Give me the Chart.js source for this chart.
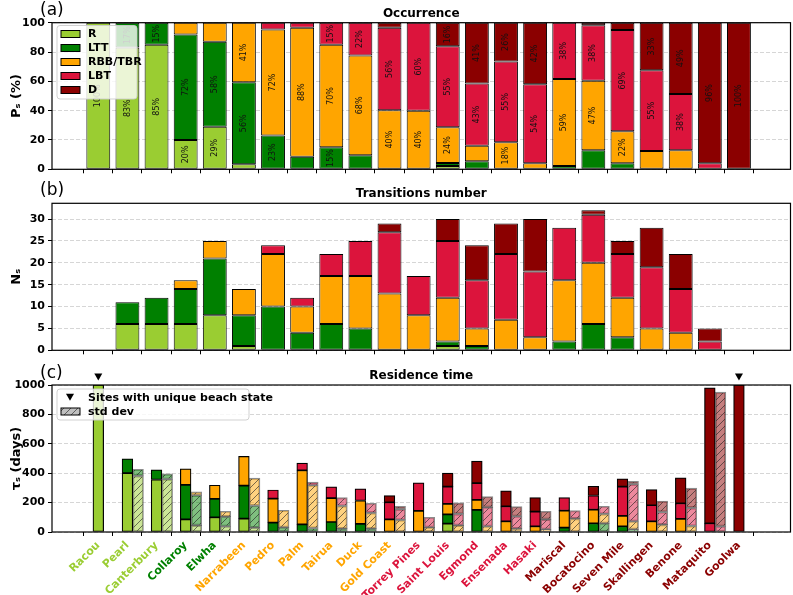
<!DOCTYPE html>
<html>
<head>
<meta charset="utf-8">
<script src="https://cdn.jsdelivr.net/npm/chart.js@4.4.1/dist/chart.umd.min.js"></script>
<style>
  html, body { margin: 0; padding: 0; background: #fff; }
  #wrap { position: relative; width: 793px; height: 595px; overflow: hidden; }
  canvas { position: absolute; left: 0; }
</style>
</head>
<body>
<div id="wrap">
  <canvas id="occ" width="793" height="180" style="top:0px"></canvas>
  <canvas id="trans" width="793" height="180" style="top:180px"></canvas>
  <canvas id="res" width="793" height="235" style="top:360px"></canvas>
</div>
<script>
// sites and the beach-state class each one is labelled with
const sites = ['Racou', 'Pearl', 'Canterbury', 'Collaroy', 'Elwha', 'Narrabeen', 'Pedro', 'Palm', 'Tairua', 'Duck',
  'Gold Coast', 'Torrey Pines', 'Saint Louis', 'Egmond', 'Ensenada', 'Hasaki', 'Mariscal', 'Bocatocino',
  'Seven Mile', 'Skallingen', 'Benone', 'Mataquito', 'Goolwa'];
const siteClass = [0, 0, 0, 1, 1, 2, 2, 2, 2, 2, 2, 3, 3, 3, 3, 3, 4, 4, 4, 4, 4, 4, 4];
const classes = ['R', 'LTT', 'RBB/TBR', 'LBT', 'D'];
const classRGB = ['154,205,50', '0,128,0', '255,165,0', '220,20,60', '139,0,0'];

// (a) occurrence (%)
const occR   = [100, 83, 85, 20, 29, 3.4, 0, 0, 0, 0, 0, 0, 2.3, 0, 0, 0, 0, 0, 0, 0, 0, 0, 0];
const occLTT = [0, 17, 15, 72, 58, 56, 23, 8.6, 15, 9.5, 0, 0, 2, 5.5, 0, 0, 2.3, 13, 4.1, 0, 0, 0, 0];
const occRBB = [0, 0, 0, 8, 13, 40.6, 72.4, 88, 70, 68.2, 40.2, 40, 24.4, 10.6, 18.4, 4.1, 59.3, 47.4, 21.8, 12.5, 13, 0, 0];
const occLBT = [0, 0, 0, 0, 0, 0, 4.6, 3.4, 15, 22.3, 56.4, 60, 55.3, 42.5, 55.2, 53.9, 38.4, 37.8, 69.1, 55, 38.4, 4.1, 0];
const occD   = [0, 0, 0, 0, 0, 0, 0, 0, 0, 0, 3.4, 0, 16, 41.4, 26.4, 42, 0, 1.8, 5, 32.5, 48.6, 95.9, 100];

// (b) transitions number
const trR   = [0, 6, 6, 6, 8, 1, 0, 0, 0, 0, 0, 0, 1, 0, 0, 0, 0, 0, 0, 0, 0, 0, 0];
const trLTT = [0, 5, 6, 8, 13, 7, 10, 4, 6, 5, 0, 0, 1, 1, 0, 0, 2, 6, 3, 0, 0, 0, 0];
const trRBB = [0, 0, 0, 2, 4, 6, 12, 6, 11, 12, 13, 8, 10, 4, 7, 3, 14, 14, 9, 5, 4, 0, 0];
const trLBT = [0, 0, 0, 0, 0, 0, 2, 2, 5, 8, 14, 9, 13, 11, 15, 15, 12, 11, 10, 14, 10, 2, 0];
const trD   = [0, 0, 0, 0, 0, 0, 0, 0, 0, 0, 2, 0, 5, 8, 7, 12, 0, 1, 3, 9, 8, 3, 0];

// (c) residence time (days), mean
const resR   = [1000, 400, 357, 86, 100, 91, 0, 0, 0, 0, 0, 0, 57, 0, 0, 0, 0, 0, 0, 0, 0, 0, 0];
const resLTT = [0, 98, 66, 234, 125, 225, 64, 52, 68, 55, 0, 0, 63, 150, 0, 0, 30, 59, 39, 0, 0, 0, 0];
const resRBB = [0, 0, 0, 110, 93, 198, 163, 368, 162, 159, 86, 143, 71, 68, 73, 39, 115, 93, 70, 73, 89, 0, 0];
const resLBT = [0, 0, 0, 0, 0, 0, 59, 48, 77, 79, 116, 191, 118, 114, 102, 100, 89, 96, 200, 109, 106, 59, 0];
const resD   = [0, 0, 0, 0, 0, 0, 0, 0, 0, 0, 46, 0, 91, 150, 105, 95, 0, 63, 52, 107, 173, 921, 1000];

// (c) residence time (days), std dev
const stdR   = [0, 382, 359, 45, 39, 30, 0, 0, 0, 0, 0, 0, 0, 0, 0, 0, 0, 0, 0, 0, 0, 0, 0];
const stdLTT = [0, 45, 36, 205, 66, 150, 32, 27, 23, 23, 0, 0, 0, 0, 0, 0, 0, 59, 18, 0, 0, 0, 0];
const stdRBB = [0, 0, 0, 23, 36, 186, 116, 291, 154, 107, 82, 32, 45, 39, 23, 18, 91, 64, 55, 50, 41, 0, 0];
const stdLBT = [0, 0, 0, 0, 0, 0, 0, 21, 57, 65, 73, 68, 78, 129, 84, 68, 54, 52, 252, 86, 123, 39, 0];
const stdD   = [0, 0, 0, 0, 0, 0, 0, 0, 0, 0, 20, 0, 75, 73, 66, 55, 0, 0, 20, 75, 134, 913, 0];

// y tick labels
const occTicks = [0, 20, 40, 60, 80, 100];
const trTicks = [0, 5, 10, 15, 20, 25, 30];
const resTicks = [0, 200, 400, 600, 800, 1000];

Chart.defaults.font.family = '"DejaVu Sans"';
Chart.defaults.color = '#000';

const nz = a => a.map(v => v || null);
const solid = k => 'rgb(' + classRGB[k] + ')';

function hatch(rgb, alpha) {
  const c = document.createElement('canvas');
  c.width = c.height = 7;
  const g = c.getContext('2d');
  g.fillStyle = 'rgba(' + rgb + ',' + alpha + ')';
  g.fillRect(0, 0, 7, 7);
  g.strokeStyle = 'rgba(30,30,30,0.75)';
  g.lineWidth = 0.8;
  g.beginPath();
  g.moveTo(0, 7); g.lineTo(7, 0);
  g.moveTo(-1, 1); g.lineTo(1, -1);
  g.moveTo(6, 8); g.lineTo(8, 6);
  g.stroke();
  return g.createPattern(c, 'repeat');
}

function xAxis(showLabels, height) {
  return {
    type: 'linear', min: -1.59, max: 23.77, stacked: true, offset: false,
    afterBuildTicks: s => { s.ticks = sites.map((_, i) => ({ value: i })); },
    afterFit: s => { s.height = height; },
    grid: { drawOnChartArea: false, drawTicks: true, tickLength: 4, tickColor: '#000', tickWidth: 1 },
    border: { display: false },
    ticks: {
      display: showLabels, autoSkip: false, maxRotation: 45, minRotation: 45, padding: 3,
      font: { size: 11, weight: 'bold' },
      color: c => solid(siteClass[c.tick.value]),
      callback: v => sites[v]
    }
  };
}

function yAxis(title, max, ticks) {
  return {
    stacked: true, min: 0, max: max,
    afterBuildTicks: s => { s.ticks = ticks.map(v => ({ value: v })); },
    afterFit: s => { s.width = 52; },
    grid: { color: 'rgba(0,0,0,0.16)', tickColor: '#000', tickLength: 4, drawTicks: true },
    border: { display: false, dash: [4, 2] },
    ticks: { padding: 3, font: { size: 11, weight: 'bold' }, callback: v => String(v) },
    title: { display: true, text: title, font: { size: 13, weight: 'bold' }, padding: { top: 9, bottom: 0 } }
  };
}

function legendBox(ctx, x, y, w, h) {
  ctx.save();
  ctx.fillStyle = 'rgba(255,255,255,0.8)';
  ctx.strokeStyle = 'rgba(204,204,204,0.9)';
  ctx.lineWidth = 1;
  ctx.beginPath();
  ctx.roundRect(x, y, w, h, 3);
  ctx.fill();
  ctx.stroke();
  ctx.restore();
}

function deco(letter, title, letterY, extra) {
  return {
    id: 'deco',
    afterDraw(chart) {
      const { ctx, chartArea: a } = chart;
      ctx.save();
      ctx.strokeStyle = '#000';
      ctx.lineWidth = 1.2;
      ctx.strokeRect(a.left, a.top, a.right - a.left, a.bottom - a.top);
      ctx.fillStyle = '#000';
      ctx.textBaseline = 'alphabetic';
      ctx.font = 'bold 12px "DejaVu Sans"';
      ctx.textAlign = 'center';
      ctx.fillText(title, (a.left + a.right) / 2, a.top - 6);
      ctx.font = '17px "DejaVu Sans"';
      ctx.textAlign = 'left';
      ctx.fillText('(' + letter + ')', 40, letterY);
      ctx.restore();
      if (extra) extra(chart);
    }
  };
}

const baseOpts = {
  responsive: false, animation: false, devicePixelRatio: 1,
  plugins: { legend: { display: false }, tooltip: { enabled: false } }
};

// ---------- (a) Occurrence ----------
const occSets = [occR, occLTT, occRBB, occLBT, occD].map((arr, k) => ({
  label: classes[k], data: nz(arr), backgroundColor: solid(k),
  borderColor: '#000', borderWidth: 1, borderSkipped: false,
  barPercentage: 0.82, categoryPercentage: 1
}));

const pctLabels = {
  id: 'pctLabels',
  afterDatasetsDraw(chart) {
    const ctx = chart.ctx;
    ctx.save();
    ctx.font = '8px "DejaVu Sans"';
    ctx.fillStyle = '#111';
    ctx.textAlign = 'center';
    ctx.textBaseline = 'middle';
    chart.data.datasets.forEach((ds, d) => {
      chart.getDatasetMeta(d).data.forEach((el, i) => {
        const v = ds.data[i];
        if (v == null || v < 14) return;
        ctx.save();
        ctx.translate(el.x, (el.y + el.base) / 2);
        ctx.rotate(-Math.PI / 2);
        ctx.fillText(Math.round(v) + '%', 0, 0);
        ctx.restore();
      });
    });
    ctx.restore();
  }
};

new Chart(document.getElementById('occ'), {
  type: 'bar',
  data: { labels: sites.map((_, i) => i), datasets: occSets },
  options: Object.assign({}, baseOpts, {
    layout: { padding: { top: 22.7, right: 2.5, left: 0, bottom: 0 } },
    scales: { x: xAxis(false, 10.7), y: yAxis('Pₛ (%)', 100, occTicks) }
  }),
  plugins: [pctLabels, deco('a', 'Occurrence', 14.5, chart => {
    const ctx = chart.ctx;
    legendBox(ctx, 57, 25.5, 80, 73.5);
    ctx.save();
    ctx.font = 'bold 11px "DejaVu Sans"';
    ctx.textBaseline = 'middle';
    ctx.textAlign = 'left';
    chart.data.datasets.forEach((ds, k) => {
      const y = 34 + k * 14;
      ctx.fillStyle = ds.backgroundColor;
      ctx.fillRect(61, y - 3.5, 19, 7);
      ctx.strokeStyle = '#000';
      ctx.lineWidth = 1;
      ctx.strokeRect(61, y - 3.5, 19, 7);
      ctx.fillStyle = '#000';
      ctx.fillText(ds.label, 88, y + 0.5);
    });
    ctx.restore();
  })]
});

// ---------- (b) Transitions number ----------
const trSets = [trR, trLTT, trRBB, trLBT, trD].map((arr, k) => ({
  label: classes[k], data: nz(arr), backgroundColor: solid(k),
  borderColor: '#000', borderWidth: 1, borderSkipped: false,
  barPercentage: 0.82, categoryPercentage: 1
}));

new Chart(document.getElementById('trans'), {
  type: 'bar',
  data: { labels: sites.map((_, i) => i), datasets: trSets },
  options: Object.assign({}, baseOpts, {
    layout: { padding: { top: 23.3, right: 2.5, left: 0, bottom: 0 } },
    scales: { x: xAxis(false, 9.7), y: yAxis('Nₛ', 33.6, trTicks) }
  }),
  plugins: [deco('b', 'Transitions number', 14.5)]
});

// ---------- (c) Residence time ----------
const unique = sites.map((_, i) => [occR, occLTT, occRBB, occLBT, occD].some(a => a[i] === 100));

const resSets = [{
  label: '', data: sites.map(() => null), stack: 'pad',
  backgroundColor: 'rgba(0,0,0,0)', borderWidth: 0, barThickness: 10.7
}].concat(
  [resR, resLTT, resRBB, resLBT, resD].map((arr, k) => ({
    label: classes[k], data: nz(arr), stack: 'mean', backgroundColor: solid(k),
    borderColor: '#000', borderWidth: 1.2, borderSkipped: false, barThickness: 10.7
  })),
  [stdR, stdLTT, stdRBB, stdLBT, stdD].map((arr, k) => ({
    label: classes[k] + ' std dev', data: nz(arr), stack: 'std', backgroundColor: hatch(classRGB[k], 0.5),
    borderColor: 'rgba(0,0,0,0.45)', borderWidth: 1.2, borderSkipped: false, barThickness: 10.7
  }))
);

function triangle(ctx, x, y) {
  ctx.beginPath();
  ctx.moveTo(x - 4, y - 3.5);
  ctx.lineTo(x + 4, y - 3.5);
  ctx.lineTo(x, y + 3.5);
  ctx.closePath();
  ctx.fill();
}

new Chart(document.getElementById('res'), {
  type: 'bar',
  data: { labels: sites.map((_, i) => i), datasets: resSets },
  options: Object.assign({}, baseOpts, {
    layout: { padding: { top: 25, right: 2.5, left: 0, bottom: 0 } },
    scales: { x: xAxis(true, 63), y: yAxis('τₛ (days)', 1000, resTicks) }
  }),
  plugins: [deco('c', 'Residence time', 18, chart => {
    const ctx = chart.ctx;
    const a = chart.chartArea;
    ctx.save();
    ctx.fillStyle = '#000';
    unique.forEach((u, i) => {
      if (u) triangle(ctx, chart.scales.x.getPixelForValue(i), a.top - 8);
    });
    legendBox(ctx, 57, 29, 192, 31);
    triangle(ctx, 70, 37.3);
    ctx.fillStyle = hatch('128,128,128', 0.5);
    ctx.fillRect(61, 48, 19, 7);
    ctx.strokeStyle = '#000';
    ctx.lineWidth = 1;
    ctx.strokeRect(61, 48, 19, 7);
    ctx.fillStyle = '#000';
    ctx.font = 'bold 11px "DejaVu Sans"';
    ctx.textBaseline = 'middle';
    ctx.textAlign = 'left';
    ctx.fillText('Sites with unique beach state', 88, 37.8);
    ctx.fillText('std dev', 88, 52);
    ctx.restore();
  })]
});
</script>
</body>
</html>
